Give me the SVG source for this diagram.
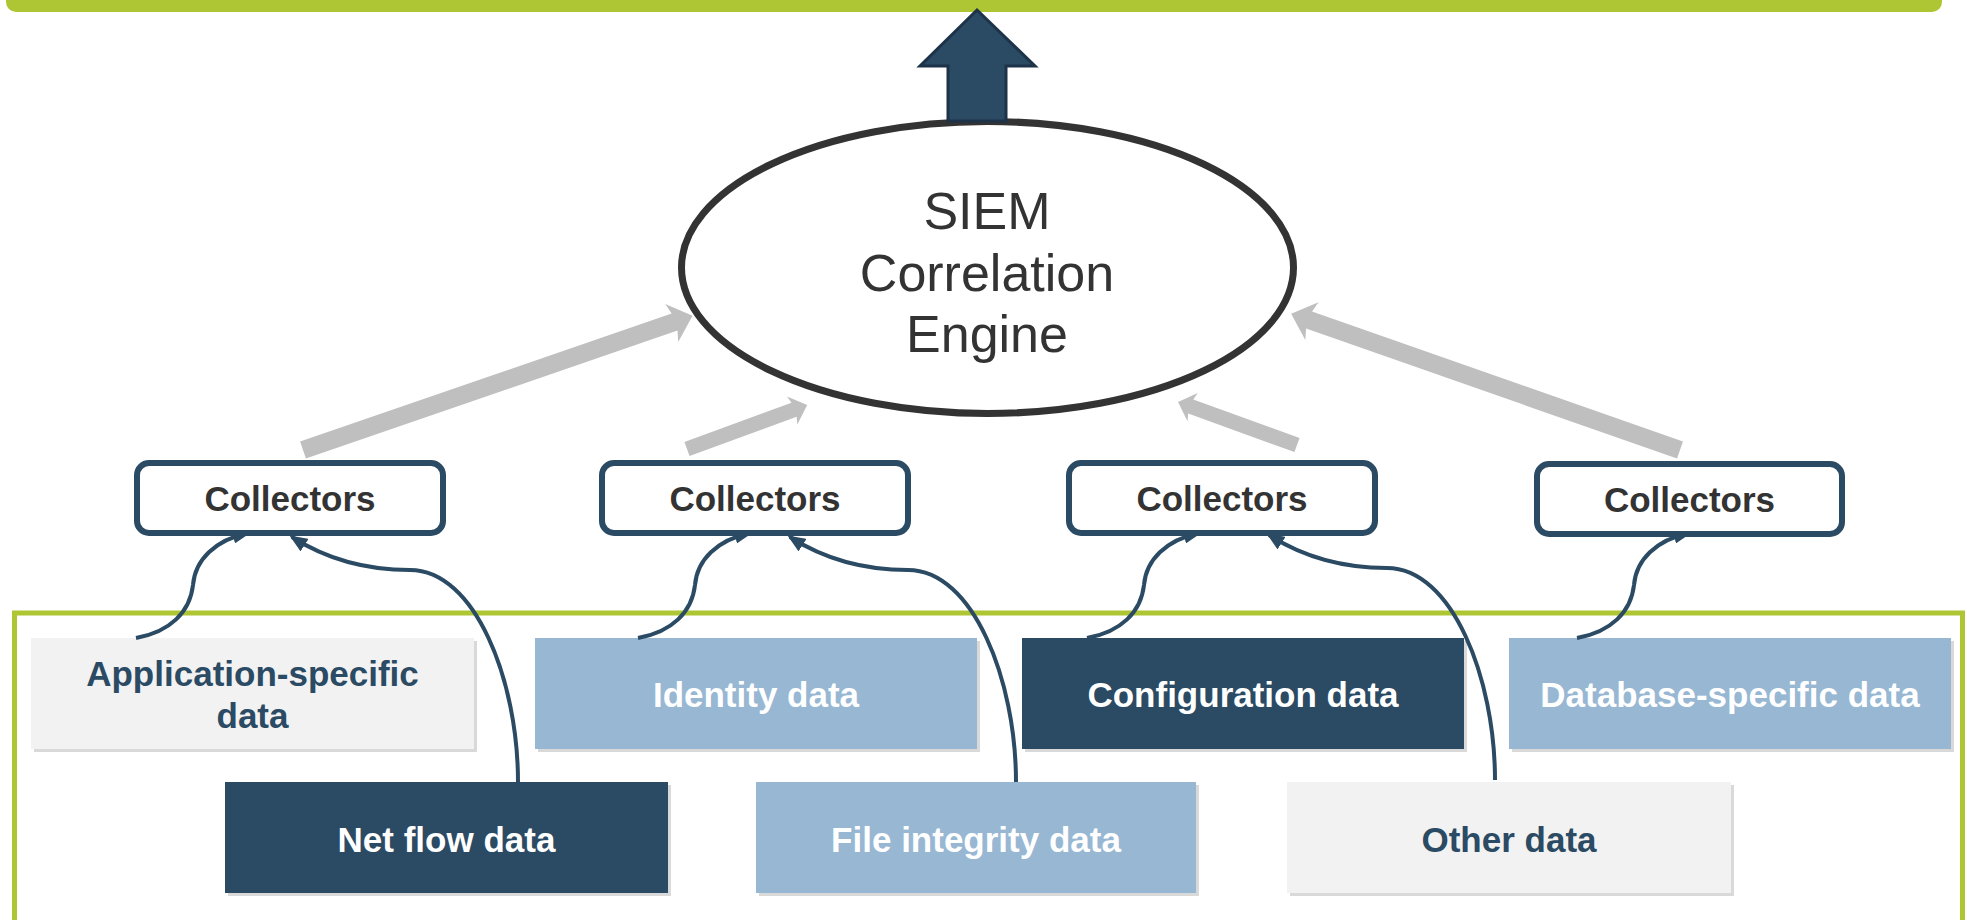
<svg xmlns="http://www.w3.org/2000/svg" width="1967" height="920" viewBox="0 0 1967 920">
<style>
.coll{fill:#fff;stroke:#2b4a63;stroke-width:6}
.ct{font-family:"Liberation Sans",Arial,sans-serif;font-weight:bold;font-size:35px;fill:#333;text-anchor:middle}
.dt{font-family:"Liberation Sans",Arial,sans-serif;font-weight:bold;font-size:35px;text-anchor:middle}
.sh{fill:#d9d9d9}
.dark{fill:#2b4a63}
.light{fill:#97b7d3}
.grey{fill:#f2f2f2}
.w{fill:#fff}
.b{fill:#2b4a63}
.gray-arrow{fill:#bfbfbf}
.curve{fill:none;stroke:#2b4a63;stroke-width:4;marker-end:url(#ah)}
.siem{font-family:"Liberation Sans",Arial,sans-serif;font-size:52px;fill:#333;text-anchor:middle}
</style>
<defs>
<marker id="ah" markerUnits="userSpaceOnUse" markerWidth="18" markerHeight="15" viewBox="0 0 18 15" refX="15" refY="7.5" orient="auto">
<path d="M0,0 L18,7.5 L0,15 z" fill="#2b4a63"/>
</marker>
</defs>
<rect width="1967" height="920" fill="#fff"/>
<g id="top-bar"><rect x="6" y="-20" width="1936" height="32" rx="10" fill="#afc634"/></g>
<g id="data-frame"><rect x="14.5" y="613" width="1948" height="400" fill="none" stroke="#afc634" stroke-width="5"/></g>

<g id="app-data">
<rect class="sh" x="34" y="641" width="443" height="111"/>
<rect class="grey" x="31" y="638" width="443" height="111"/>
<text class="dt b" x="252.5" y="686">Application-specific</text>
<text class="dt b" x="252.5" y="728">data</text>
</g>
<g id="identity-data">
<rect class="sh" x="538" y="641" width="442" height="111"/>
<rect class="light" x="535" y="638" width="442" height="111"/>
<text class="dt w" x="756" y="707">Identity data</text>
</g>
<g id="configuration-data">
<rect class="sh" x="1025" y="641" width="442" height="111"/>
<rect class="dark" x="1022" y="638" width="442" height="111"/>
<text class="dt w" x="1243" y="707">Configuration data</text>
</g>
<g id="database-data">
<rect class="sh" x="1512" y="641" width="442" height="111"/>
<rect class="light" x="1509" y="638" width="442" height="111"/>
<text class="dt w" x="1730" y="707">Database-specific data</text>
</g>
<g id="netflow-data">
<rect class="sh" x="228" y="785" width="443" height="111"/>
<rect class="dark" x="225" y="782" width="443" height="111"/>
<text class="dt w" x="446.5" y="852">Net flow data</text>
</g>
<g id="file-integrity-data">
<rect class="sh" x="759" y="785" width="440" height="111"/>
<rect class="light" x="756" y="782" width="440" height="111"/>
<text class="dt w" x="976" y="852">File integrity data</text>
</g>
<g id="other-data">
<rect class="sh" x="1290" y="785" width="444" height="111"/>
<rect class="grey" x="1287" y="782" width="444" height="111"/>
<text class="dt b" x="1509" y="852">Other data</text>
</g>

<g id="siem-engine">
<ellipse cx="987.5" cy="267.5" rx="306" ry="146" fill="#fff" stroke="#333" stroke-width="7"/>
<text class="siem" x="987" y="229">SIEM</text>
<text class="siem" x="987" y="291">Correlation</text>
<text class="siem" x="987" y="352">Engine</text>
</g>

<g id="connectors">
<polygon class="gray-arrow" transform="translate(303,450) rotate(-19)" points="0,-9 393,-9 390,-20 412,0 390,20 393,9 0,9"/>
<polygon class="gray-arrow" transform="translate(687,449) rotate(-20.1)" points="0,-7.5 114,-7.5 112,-15 128,0 112,15 114,7.5 0,7.5"/>
<polygon class="gray-arrow" transform="translate(1297,445) rotate(-160.1)" points="0,-7.5 113,-7.5 111,-15 126.5,0 111,15 113,7.5 0,7.5"/>
<polygon class="gray-arrow" transform="translate(1680,450) rotate(-160.7)" points="0,-9 393,-9 390,-20 412,0 390,20 393,9 0,9"/>
<polygon points="977,10 1035,66 1006,66 1006,121 948,121 948,66 920,66" fill="#2b4a63" stroke="#1d3349" stroke-width="3" stroke-linejoin="miter"/>
<path class="curve" d="M136,638 C170,632 190,612 193,585 C195,560 215,540 248,533"/>
<path class="curve" transform="translate(502,0)" d="M136,638 C170,632 190,612 193,585 C195,560 215,540 248,533"/>
<path class="curve" transform="translate(951,0)" d="M136,638 C170,632 190,612 193,585 C195,560 215,540 248,533"/>
<path class="curve" transform="translate(1441,0)" d="M136,638 C170,632 190,612 193,585 C195,560 215,540 248,533"/>
<path class="curve" d="M518,782 C518,680 475,570 410,570 C360,570 320,555 292,537"/>
<path class="curve" transform="translate(498,0)" d="M518,782 C518,680 475,570 410,570 C360,570 320,555 292,537"/>
<path class="curve" transform="translate(977,-2)" d="M518,782 C518,680 475,570 410,570 C360,570 320,555 292,537"/>
</g>

<g id="collectors-1"><rect class="coll" x="137" y="463" width="306" height="70" rx="12"/><text class="ct" x="290" y="511">Collectors</text></g>
<g id="collectors-2"><rect class="coll" x="602" y="463" width="306" height="70" rx="12"/><text class="ct" x="755" y="511">Collectors</text></g>
<g id="collectors-3"><rect class="coll" x="1069" y="463" width="306" height="70" rx="12"/><text class="ct" x="1222" y="511">Collectors</text></g>
<g id="collectors-4"><rect class="coll" x="1537" y="464" width="305" height="70" rx="12"/><text class="ct" x="1689.5" y="512">Collectors</text></g>
</svg>
